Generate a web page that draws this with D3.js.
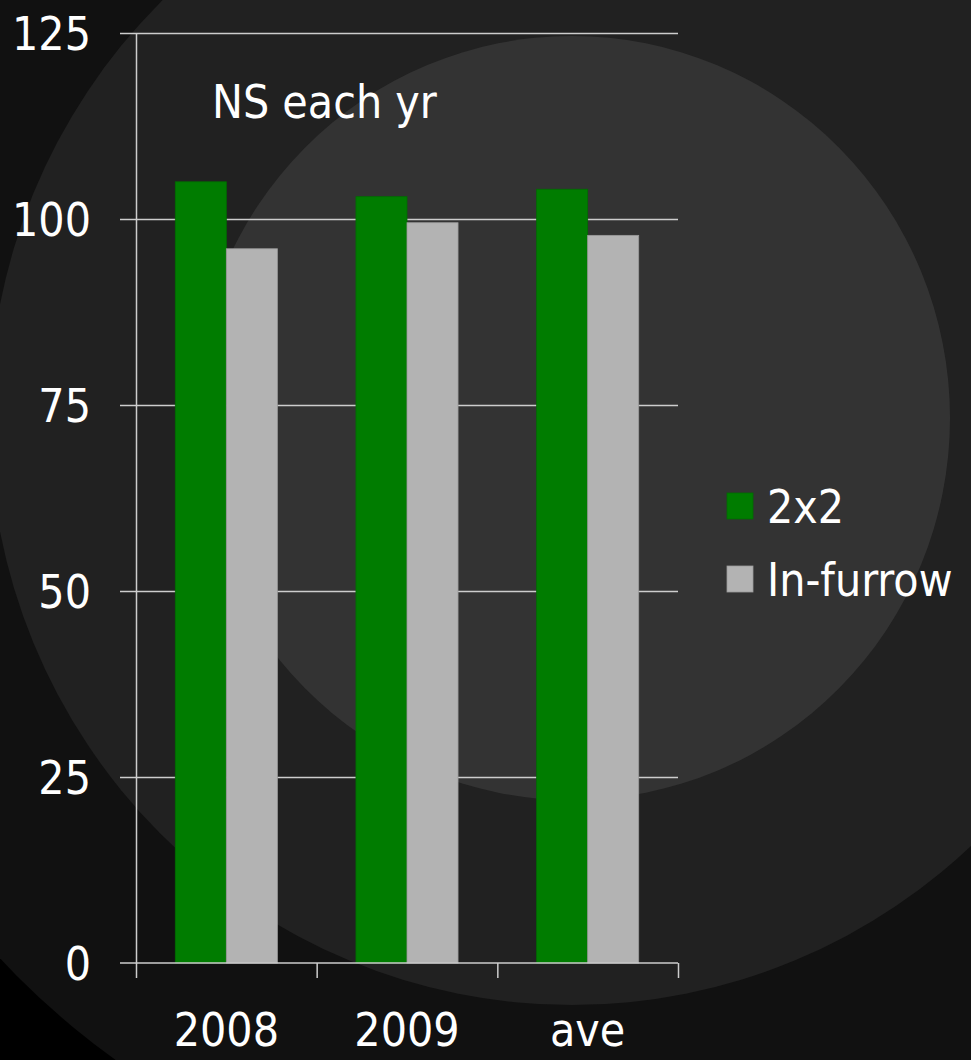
<!DOCTYPE html>
<html>
<head>
<meta charset="utf-8">
<script src="https://cdn.jsdelivr.net/npm/d3@7"></script>
<style>
  html, body { margin: 0; padding: 0; background: #000; }
  svg { display: block; }
  text { font-family: 'DejaVu Sans Condensed', 'DejaVu Sans', sans-serif; font-stretch: condensed; fill: #fff; }
</style>
</head>
<body>
<div id="vis"></div>
<script>
(function () {

  'strict';

  // Data
  var categories = ['2008', '2009', 'ave'];
  var seriesNames = ['2x2', 'In-furrow'];
  var values2x2 = [105, 103, 104];
  var valuesInFurrow = [96, 99.5, 97.8];
  var yTicks = [0, 25, 50, 75, 100, 125];
  var title = 'NS each yr';

  // Settings
  var svgWidth = 971;
  var svgHeight = 1060;

  var margin = {
    top: 33,
    left: 136
  };

  var width = 542;
  var height = 930;
  var fontSize = 46;

  var colors = {
    '2x2': '#007c00',
    'In-furrow': '#b3b3b3'
  };

  var lineColor = '#cdcdcd';

  // background rings, darkest first
  var rings = [
    { r: 785, fill: '#111111' },
    { r: 583, fill: '#212121' },
    { r: 378, fill: '#333333' }
  ];

  (function init() {

    var rows = categories.map(function (c, i) {
      return { category: c, values: [values2x2[i], valuesInFurrow[i]] };
    });

    draw(rows);
  })();

  function draw(rows) {

    var svg, g, x0, x1, xEdge, y, group;

    svg = d3.select('#vis').append('svg')
        .attr('width', svgWidth)
        .attr('height', svgHeight);

    svg.append('rect')
        .attr('width', svgWidth)
        .attr('height', svgHeight)
        .attr('fill', '#000');

    svg.append('g')
      .selectAll('ellipse')
        .data(rings)
        .enter()
      .append('ellipse')
        .attr('cx', 572)
        .attr('cy', 418)
        .attr('rx', function (d) { return d.r; })
        .attr('ry', function (d) { return d.r + 4; })
        .attr('fill', function (d) { return d.fill; });

    g = svg.append('g')
        .attr('transform', 'translate(' + margin.left + ',' + margin.top + ')');

    x0 = d3.scaleBand()
        .domain(categories)
        .range([0, width])
        .paddingInner(0.435)
        .paddingOuter(0.2175);

    x1 = d3.scaleBand()
        .domain(seriesNames)
        .range([0, x0.bandwidth()]);

    xEdge = d3.scaleLinear()
        .domain([0, categories.length])
        .range([0, width]);

    y = d3.scaleLinear()
        .domain([0, 125])
        .range([height, 0]);

    // Gridlines (with the short outside ticks on the left)
    g.append('g')
        .attr('class', 'grid')
        .attr('transform', 'translate(-16,0)')
        .call(d3.axisRight(y).tickValues(yTicks.filter(function (t) { return t > 0; }))
          .tickSize(width + 16).tickFormat(''))
        .call(function (s) {
          s.select('.domain').remove();
          s.selectAll('line').attr('stroke', lineColor).attr('stroke-width', 1.5);
        });

    // Bars
    group = g.append('g')
      .selectAll('g')
        .data(rows)
        .enter()
      .append('g')
        .attr('transform', function (d) { return 'translate(' + x0(d.category) + ',0)'; });

    group.selectAll('rect')
        .data(function (d) {
          return d.values.map(function (v, i) { return { name: seriesNames[i], value: v }; });
        })
        .enter()
      .append('rect')
        .attr('x', function (d) { return x1(d.name); })
        .attr('y', function (d) { return y(d.value); })
        .attr('width', x1.bandwidth())
        .attr('height', function (d) { return height - y(d.value); })
        .attr('fill', function (d) { return colors[d.name]; })
        .attr('stroke', function (d) { return d3.color(colors[d.name]).darker(0.4); })
        .attr('stroke-width', 0.8);

    // Y axis line and labels
    g.append('g')
        .call(d3.axisLeft(y).tickValues(yTicks).tickSize(0).tickPadding(45))
        .call(function (s) {
          s.select('.domain').attr('stroke', lineColor).attr('stroke-width', 1.5);
          s.selectAll('text')
            .attr('font-size', fontSize)
            .attr('font-family', null)
            .attr('fill', '#fff')
            .attr('dy', '0.36em');
        });

    // X axis: zero line + ticks at category edges
    g.append('g')
        .attr('transform', 'translate(0,' + height + ')')
        .call(d3.axisBottom(xEdge).ticks(categories.length).tickSize(15).tickFormat(''))
        .call(function (s) {
          s.select('.domain').remove();
          s.selectAll('line').attr('stroke', lineColor).attr('stroke-width', 1.5);
        });

    g.append('line')
        .attr('x1', -16)
        .attr('x2', width)
        .attr('y1', y(0))
        .attr('y2', y(0))
        .attr('stroke', lineColor)
        .attr('stroke-width', 1.5);

    g.append('g')
        .attr('transform', 'translate(0,' + height + ')')
        .call(d3.axisBottom(x0).tickSize(0).tickPadding(50))
        .call(function (s) {
          s.select('.domain').remove();
          s.selectAll('text')
            .attr('font-size', fontSize)
            .attr('font-family', null)
            .attr('fill', '#fff');
        });

    // Title inside the plot
    g.append('text')
        .attr('x', 76)
        .attr('y', 85)
        .attr('font-size', fontSize)
        .text(title);

    // Legend
    var legend = svg.append('g')
        .attr('transform', 'translate(727,506)')
      .selectAll('g')
        .data(seriesNames)
        .enter()
      .append('g')
        .attr('transform', function (d, i) { return 'translate(0,' + (i * 73) + ')'; });

    legend.append('rect')
        .attr('x', 0)
        .attr('y', -13)
        .attr('width', 26)
        .attr('height', 26)
        .attr('fill', function (d) { return colors[d]; })
        .attr('stroke', function (d) { return d3.color(colors[d]).darker(0.4); })
        .attr('stroke-width', 0.8);

    legend.append('text')
        .attr('x', 40)
        .attr('y', 0)
        .attr('dy', '0.36em')
        .attr('font-size', fontSize)
        .text(function (d) { return d; });
  }
})();
</script>
</body>
</html>
